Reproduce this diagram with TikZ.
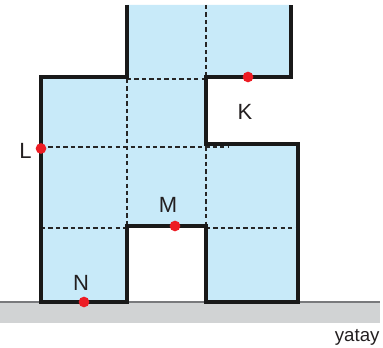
\documentclass[tikz,border=0pt]{standalone}
\usepackage{fontspec}
\setmainfont{Liberation Sans}

\definecolor{blokmavi}{RGB}{200,234,249}
\definecolor{zemin}{RGB}{209,211,212}
\definecolor{zeminkenar}{RGB}{120,121,124}
\definecolor{noktakirmizi}{RGB}{237,28,36}
\definecolor{yazi}{RGB}{35,31,32}

\tikzset{every picture/.style={line width=0.75pt}}
\tikzset{
  kenar/.style={line width=2.6pt, line join=miter, color=black!90},
  kesik/.style={line width=1.3pt, dash pattern=on 3.2pt off 2.4pt, color=black!85},
  nokta/.style={circle, fill=noktakirmizi, inner sep=0pt, minimum size=8pt},
  etiket/.style={text=yazi, font=\fontsize{16.5}{19}\selectfont, inner sep=0pt}
}

\begin{document}
\begin{tikzpicture}[x=0.75pt,y=0.75pt,yscale=-1,xscale=1]
		\useasboundingbox (0,0) rectangle (383,348);

		%Shape: Rectangle [ground]
		\fill [zemin] (0,302) rectangle (380,323);
		%Straight Lines [ground top]
		\draw [zeminkenar, line width=1.2pt] (0,302) -- (380,302);

		%Shape: Polygon [block fill]
		\fill [blokmavi] (127,5) -- (127,77) -- (41,77) -- (41,302) -- (127,302) -- (127,226) -- (206,226) -- (206,302) -- (298,302) -- (298,144) -- (206,144) -- (206,77) -- (291,77) -- (291,5) -- cycle ;

		%Dashed Lines [inner grid]
		\draw [kesik] (206,5) -- (206,77) ;
		\draw [kesik] (127,79) -- (206,79) ;
		\draw [kesik] (127,79) -- (127,226) ;
		\draw [kesik] (41,147) -- (229,147) ;
		\draw [kesik] (206,147) -- (206,226) ;
		\draw [kesik] (41,228) -- (127,228) ;
		\draw [kesik] (206,228) -- (298,228) ;

		%Straight Lines [block outline]
		\draw [kenar] (127,5) -- (127,77) -- (41,77) -- (41,302) -- (127,302) -- (127,226) -- (206,226) -- (206,302) -- (298,302) -- (298,144) -- (206,144) -- (206,77) -- (291,77) -- (291,5) ;

		%Shape: Circle [points]
		\node [nokta] (dotK) at (248,77) {};
		\node [nokta] (dotL) at (41,148.5) {};
		\node [nokta] (dotM) at (175,226) {};
		\node [nokta] (dotN) at (84,302) {};

		% Text Node
		\node [etiket] (labK) at (245,112) {K};
		% Text Node
		\node [etiket] (labL) at (25.5,151) {L};
		% Text Node
		\node [etiket] (labM) at (168,205) {M};
		% Text Node
		\node [etiket] (labN) at (81,282.5) {N};
		% Text Node
		\node [etiket, anchor=base east, font=\fontsize{14}{17}\selectfont] (labYatay) at (380,342) {yatay};

\end{tikzpicture}
\end{document}
